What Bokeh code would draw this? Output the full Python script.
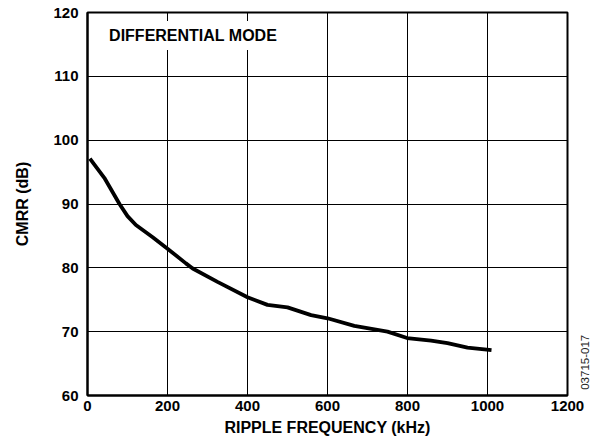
import math
from bokeh.plotting import figure
from bokeh.models import FixedTicker, Label, Range1d
from bokeh.embed import file_html
from bokeh.resources import INLINE

# Data
freq_khz = [6, 42, 80, 100, 121, 163, 200, 246, 263, 325, 400, 450, 500,
            559, 600, 667, 750, 799, 859, 900, 950, 1010]
cmrr_db = [97.1, 94.1, 90.0, 88.1, 86.7, 84.8, 83.0, 80.7, 79.9, 77.8, 75.4,
           74.2, 73.8, 72.6, 72.1, 70.9, 70.0, 69.0, 68.6, 68.2, 67.5, 67.1]
x_ticks = [0, 200, 400, 600, 800, 1000, 1200]
y_ticks = [60, 70, 80, 90, 100, 110, 120]

FONT = "Liberation Sans"

p = figure(width=591, height=440, output_backend="svg", toolbar_location=None,
           x_range=Range1d(0, 1200), y_range=Range1d(60, 120),
           min_border_left=87, min_border_right=24, min_border_top=12,
           min_border_bottom=45)

p.background_fill_color = "white"
p.border_fill_color = "white"
p.outline_line_color = "black"
p.outline_line_width = 2

p.line(freq_khz, cmrr_db, line_color="black", line_width=3.8)

for ax in (p.xaxis[0], p.yaxis[0]):
    ax.major_tick_out = 0
    ax.major_tick_in = 0
    ax.minor_tick_out = 0
    ax.minor_tick_in = 0
    ax.axis_line_color = "black"
    ax.axis_line_width = 2
    ax.major_label_text_font = FONT
    ax.major_label_text_font_style = "bold"
    ax.major_label_text_font_size = "15px"
    ax.major_label_text_color = "black"
    ax.axis_label_text_font = FONT
    ax.axis_label_text_font_style = "bold"
    ax.axis_label_text_font_size = "16px"
    ax.axis_label_text_color = "black"

p.xaxis.ticker = FixedTicker(ticks=x_ticks)
p.yaxis.ticker = FixedTicker(ticks=y_ticks)
p.xaxis.axis_label = "RIPPLE FREQUENCY (kHz)"
p.yaxis.axis_label = "CMRR (dB)"
p.xaxis.major_label_standoff = 5
p.xaxis.axis_label_standoff = 5
p.yaxis.major_label_standoff = 9
p.yaxis.axis_label_standoff = 19

p.xgrid.ticker = FixedTicker(ticks=x_ticks)
p.ygrid.ticker = FixedTicker(ticks=y_ticks)
p.grid.grid_line_color = "black"
p.grid.grid_line_width = 1
p.grid.grid_line_alpha = 1.0

mode_label = Label(x=39, y=116.4, text="DIFFERENTIAL MODE",
                   text_font=FONT, text_font_style="bold",
                   text_font_size="16px", text_color="black",
                   text_align="left", text_baseline="middle",
                   background_fill_color="white", background_fill_alpha=1.0,
                   padding=6)
p.add_layout(mode_label)

code_label = Label(x=1244, y=65.2, text="03715-017", angle=math.pi / 2,
                   text_font=FONT, text_font_size="11.5px", text_color="#222222",
                   text_align="center", text_baseline="middle")
p.add_layout(code_label, "right")

open("out.html", "w").write(file_html(p, INLINE))
